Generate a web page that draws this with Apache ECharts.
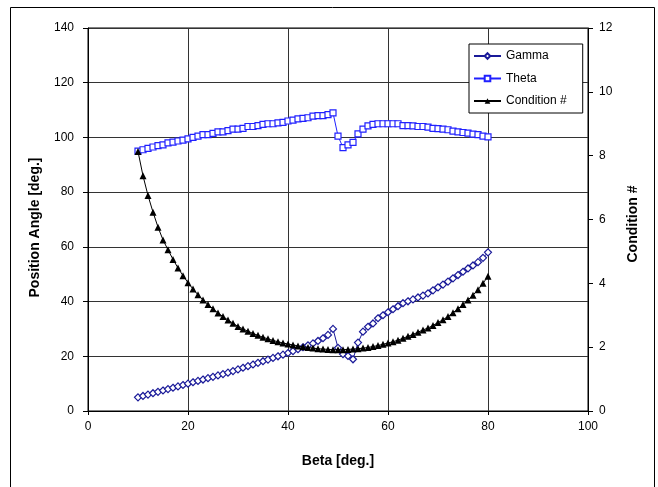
<!DOCTYPE html>
<html>
<head>
<meta charset="utf-8">
<script src="https://cdn.jsdelivr.net/npm/echarts@6/dist/echarts.min.js"></script>
<style>
html,body{margin:0;padding:0;background:#fff;}
#chart{width:658px;height:487px;}
</style>
</head>
<body>
<div id="chart"></div>
<script>
const beta = [];
for (let b = 10; b <= 80; b++) beta.push(b);

const gamma = [5.0,5.5,6.0,6.5,7.0,7.5,8.0,8.5,9.0,9.5,
  10.0,10.5,11.0,11.5,12.0,12.5,13.0,13.5,14.0,14.6,
  15.2,15.8,16.4,17.0,17.6,18.2,18.8,19.4,20.0,20.6,
  21.2,21.9,22.6,23.3,24.0,24.7,25.6,26.6,27.8,30.0,
  23.1,20.8,20.1,18.9,25.0,29.0,30.8,32.0,33.9,35.0,
  36.1,37.2,38.3,39.4,40.1,40.8,41.5,42.2,43.0,44.1,
  45.2,46.2,47.3,48.5,49.7,50.9,52.1,53.2,54.4,56.0,58.0];

const theta = [95,95.5,96,96.5,97,97.3,98,98.3,98.7,99,
  99.5,100,100.5,101,101,101.5,102,102,102.5,103,
  103,103.3,104,104,104.3,104.8,105,105,105.3,105.5,
  106,106.3,106.8,107,107.2,107.8,108,108,108.3,109,
  100.5,96.3,97.3,98.2,101.3,103,104.2,104.8,105,105,
  105,105,105,104.3,104.3,104.2,104,104,103.8,103.3,
  103.2,103,102.8,102.3,102,101.8,101.6,101.2,101,100.5,100.2];

const cond = [8.13,7.37,6.75,6.23,5.76,5.36,5.05,4.75,4.48,4.24,
  4.02,3.82,3.64,3.48,3.34,3.20,3.07,2.96,2.85,2.75,
  2.65,2.57,2.50,2.43,2.37,2.31,2.26,2.21,2.17,2.13,
  2.10,2.07,2.04,2.01,1.99,1.97,1.95,1.94,1.93,1.92,
  1.92,1.92,1.93,1.94,1.95,1.97,1.99,2.02,2.05,2.09,
  2.13,2.17,2.22,2.28,2.34,2.40,2.47,2.54,2.60,2.68,
  2.77,2.86,2.96,3.08,3.20,3.34,3.48,3.63,3.80,4.00,4.22];

const seriesNames = ['Gamma', 'Theta', 'Condition #'];
const xTitle = 'Beta [deg.]';
const yTitle = 'Position Angle [deg.]';
const y2Title = 'Condition #';

const pairs = arr => beta.map((b, i) => [b, arr[i]]);
const FONT = '"Liberation Sans", Arial, sans-serif';

const chart = echarts.init(document.getElementById('chart'), null, {renderer: 'canvas'});
chart.setOption({
  animation: false,
  backgroundColor: '#fff',
  textStyle: {fontFamily: FONT, color: '#000'},
  graphic: [{
    type: 'rect', silent: true,
    shape: {x: 10.5, y: 7.5, width: 644, height: 520},
    style: {fill: 'none', stroke: '#000', lineWidth: 1}
  }],
  grid: {left: 88, top: 28, width: 500, height: 383, show: true,
    borderColor: '#000', borderWidth: 1, backgroundColor: 'transparent'},
  legend: {
    orient: 'vertical', left: 469, top: 44,
    itemWidth: 27, itemHeight: 7, itemGap: 10.5,
    padding: [6, 16, 6, 4],
    borderColor: '#000', borderWidth: 1, backgroundColor: '#fff',
    textStyle: {fontFamily: FONT, fontSize: 12, color: '#000'},
    data: seriesNames
  },
  xAxis: {
    type: 'value', min: 0, max: 100, interval: 20,
    name: xTitle, nameLocation: 'middle', nameGap: 43,
    nameTextStyle: {fontFamily: FONT, fontSize: 14, fontWeight: 'bold', color: '#000'},
    axisLine: {show: true, onZero: false, lineStyle: {color: '#000', width: 1}},
    axisTick: {show: true, length: 4, lineStyle: {color: '#000'}},
    axisLabel: {fontFamily: FONT, fontSize: 12, color: '#000', margin: 10},
    splitLine: {show: true, lineStyle: {color: '#333', width: 1}}
  },
  yAxis: [{
    type: 'value', min: 0, max: 140, interval: 20, position: 'left',
    name: yTitle, nameLocation: 'middle', nameGap: 46,
    nameTextStyle: {fontFamily: FONT, fontSize: 14, fontWeight: 'bold', color: '#000',
      padding: [0, 16, 0, 0]},
    axisLine: {show: true, onZero: false, lineStyle: {color: '#000', width: 1}},
    axisTick: {show: true, length: 5, lineStyle: {color: '#000'}},
    axisLabel: {fontFamily: FONT, fontSize: 12, color: '#000', margin: 14},
    splitLine: {show: true, lineStyle: {color: '#333', width: 1}}
  }, {
    type: 'value', min: 0, max: 12, interval: 2, position: 'right',
    name: y2Title, nameLocation: 'middle', nameGap: 38,
    nameTextStyle: {fontFamily: FONT, fontSize: 14, fontWeight: 'bold', color: '#000',
      padding: [0, 9, 0, 0]},
    axisLine: {show: true, onZero: false, lineStyle: {color: '#000', width: 1}},
    axisTick: {show: true, length: 5, lineStyle: {color: '#000'}},
    axisLabel: {fontFamily: FONT, fontSize: 12, color: '#000', margin: 11},
    splitLine: {show: false}
  }],
  series: [{
    name: seriesNames[0], type: 'line', yAxisIndex: 0,
    data: pairs(gamma),
    symbol: 'diamond', symbolSize: 7,
    lineStyle: {color: '#1a1a99', width: 1},
    itemStyle: {color: '#fff', borderColor: '#1a1a99', borderWidth: 1.2},
    z: 3
  }, {
    name: seriesNames[1], type: 'line', yAxisIndex: 0,
    data: pairs(theta),
    symbol: 'rect', symbolSize: 6,
    lineStyle: {color: '#2020ff', width: 1},
    itemStyle: {color: '#fff', borderColor: '#2020ff', borderWidth: 1.2},
    z: 3
  }, {
    name: seriesNames[2], type: 'line', yAxisIndex: 1,
    data: pairs(cond),
    symbol: 'triangle', symbolSize: 7,
    lineStyle: {color: '#000', width: 1},
    itemStyle: {color: '#000', borderColor: '#000', borderWidth: 0},
    z: 4
  }]
});
</script>
</body>
</html>
